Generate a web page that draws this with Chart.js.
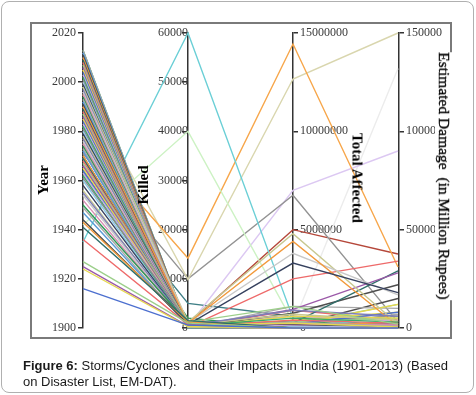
<!DOCTYPE html>
<html>
<head>
<meta charset="utf-8">
<script src="https://cdn.jsdelivr.net/npm/chart.js"></script>
<style>
  body { margin: 0; background: #fff; }
  #wrap { position: relative; width: 476px; height: 395px; overflow: hidden; }
  #outer { position: absolute; left: 1px; top: 1px; width: 473px; height: 392px; border: 1px solid #b0b0b0; border-radius: 8px; box-sizing: border-box; }
  #frame { position: absolute; left: 30px; top: 22px; width: 422px; height: 317px; border: 2px solid #7a7a7a; box-sizing: border-box; }
  #myChart { position: absolute; left: 0; top: 0; }
  .ttl { position: absolute; font-family: "Liberation Serif", serif; font-weight: bold; font-size: 15px; color: #000;
         white-space: nowrap; transform: translate(-50%, -50%) rotate(-90deg); }
  .ttl.down { transform: translate(-50%, -50%) rotate(90deg); }
  #dmg { background: #fff; font-weight: normal; font-size: 15.5px; -webkit-text-stroke: 0.3px #000; }
  #caption { position: absolute; left: 23px; top: 358px; font-family: "Liberation Sans", Arial, sans-serif; font-size: 13px; line-height: 16px; color: #1a1a1a; }
</style>
</head>
<body>
<div id="wrap">
  <div id="outer"></div>
  <div id="frame"></div>
  <canvas id="myChart" width="476" height="395"></canvas>
  <div class="ttl" style="left:43px;top:180px">Year</div>
  <div class="ttl" style="left:143px;top:185px">Killed</div>
  <div class="ttl down" style="left:357px;top:178px">Total Affected</div>
  <div class="ttl down" id="dmg" style="left:444px;top:176px">Estimated Damage&nbsp; (in Million Rupees)</div>
  <div id="caption"><b>Figure 6:</b> Storms/Cyclones and their Impacts in India (1901-2013) (Based<br>on Disaster List, EM-DAT).</div>
</div>
<script>
// axes of the parallel plot
const dimensions = ['Year', 'Killed', 'Total Affected', 'Estimated Damage'];
const yearTicks = [1900, 1920, 1940, 1960, 1980, 2000, 2020];
const killedTicks = [0, 10000, 20000, 30000, 40000, 50000, 60000];
const affectedTicks = [0, 5000000, 10000000, 15000000];
const damageTicks = [0, 50000, 100000, 150000];

// one entry per storm event
const years = [
  1916, 1924, 1925, 1927, 1936, 1941, 1943, 1944, 1947, 1949,
  1950, 1952, 1954, 1955, 1956, 1958, 1960, 1961, 1962, 1963,
  1964, 1965, 1966, 1967, 1968, 1969, 1970, 1970, 1972, 1973,
  1974, 1975, 1976, 1977, 1978, 1979, 1980, 1981, 1982, 1983,
  1984, 1985, 1986, 1987, 1988, 1989, 1990, 1991, 1992, 1993,
  1994, 1995, 1996, 1997, 1998, 1999, 2000, 2001, 2002, 2003,
  2004, 2005, 2006, 2007, 2008, 2009, 2010, 2011, 2012, 2013,
  1964, 1966, 1969, 1972, 1975, 1979, 1982, 1985, 1987, 1990,
  1992, 1995, 1996, 1998, 2000, 2003, 2005, 2008, 2010, 2012,
  1935, 1942, 1977, 1999, 1971, 1996, 1998, 1990, 1963, 2013
];
const killed = [
  600, 300, 400, 1000, 700, 1500, 1200, 800, 500, 300,
  1000, 500, 400, 700, 200, 600, 300, 1100, 250, 900,
  150, 600, 850, 1200, 1000, 300, 200, 450, 100, 250,
  80, 300, 90, 500, 600, 700, 150, 50, 400, 300,
  120, 200, 80, 50, 300, 60, 967, 40, 100, 60,
  50, 120, 1000, 200, 1200, 80, 40, 30, 20, 90,
  60, 40, 100, 70, 120, 80, 30, 50, 20, 10,
  2000, 1500, 800, 400, 250, 300, 700, 500, 200, 1000,
  150, 80, 300, 400, 100, 60, 90, 50, 40, 30,
  60000, 40000, 14204, 9843, 10000, 300, 100, 900, 5000, 20
];
const affected = [
  0, 0, 0, 0, 0, 0, 0, 0, 0, 0,
  0, 0, 0, 0, 0, 0, 50000, 0, 20000, 100000,
  0, 250000, 10000, 1100000, 0, 80000, 0, 150000, 60000, 300000,
  40000, 200000, 10000, 900000, 700000, 3300000, 100000, 20000, 500000, 120000,
  30000, 600000, 70000, 10000, 400000, 20000, 4400000, 5000, 30000, 15000,
  10000, 250000, 3800000, 100000, 4800000, 60000, 20000, 5000, 50000, 80000,
  200000, 150000, 950000, 300000, 2500000, 250000, 100000, 750000, 8000, 1100000,
  0, 0, 100000, 50000, 20000, 180000, 70000, 350000, 40000, 600000,
  10000, 400000, 150000, 200000, 900000, 30000, 60000, 120000, 80000, 20000,
  500000, 300000, 14440000, 12660000, 6750000, 7000000, 200000, 5000000, 600000, 300000
];
const damage = [
  0, 0, 0, 0, 0, 0, 0, 0, 0, 0,
  0, 0, 0, 0, 0, 0, 0, 0, 0, 0,
  0, 500, 0, 2000, 0, 0, 0, 300, 0, 800,
  0, 1500, 0, 6000, 4000, 18000, 500, 0, 3000, 200,
  100, 5000, 0, 0, 2500, 0, 1000, 0, 200, 0,
  0, 1200, 16800, 800, 2000, 300, 0, 0, 400, 700,
  8000, 12000, 28000, 5000, 34000, 29000, 3000, 22000, 1000, 10000,
  0, 0, 0, 400, 0, 1000, 0, 6000, 0, 3500,
  0, 8000, 2000, 12000, 4000, 500, 1500, 15000, 2500, 7000,
  500, 0, 31000, 150000, 3000, 90000, 132000, 37600, 200, 2000
];

const palette = ['#4c6fcf', '#e6d84e', '#9b59a8', '#9ccf8a', '#ee6a6a', '#2f6f6a', '#f29a3c', '#4d4d4d',
  '#5a9bd5', '#a8a8a8', '#2e9a55', '#d98cb3', '#c8c8c8', '#7f7fb8', '#c8c890', '#36415e',
  '#8fc9e6', '#8c8c8c', '#3da86a', '#c9a8dc'];
// the last ten events stand out in the picture
const standout = ['#6bcfd6', '#cdf2c4', '#f7a64a', '#d9d6ae', '#939393', '#dcc8f2', '#ececec', '#b5473a', '#3f7f86', '#2f9a50'];

const ranges = [
  [yearTicks[0], yearTicks[yearTicks.length - 1]],
  [killedTicks[0], killedTicks[killedTicks.length - 1]],
  [affectedTicks[0], affectedTicks[affectedTicks.length - 1]],
  [damageTicks[0], damageTicks[damageTicks.length - 1]]
];
const norm = (v, k) => (v - ranges[k][0]) / (ranges[k][1] - ranges[k][0]);

const n = years.length;
const datasets = [];
for (let i = 0; i < n; i++) {
  const vals = [years[i], killed[i], affected[i], damage[i]];
  datasets.push({
    label: 'event ' + i,
    data: vals.map((v, k) => ({x: k, y: norm(v, k)})),
    borderColor: i >= n - 10 ? standout[i - (n - 10)] : palette[i % palette.length],
    borderWidth: 1.4,
    pointRadius: 0,
    tension: 0,
    clip: false,
    xAxisID: 'x',
    yAxisID: 'yn'
  });
}

const tickFont = {family: 'Liberation Serif', size: 12};
const tickColor = '#3a3a3a';
function axis(ticks, extra) {
  return Object.assign({
    type: 'linear',
    min: ticks[0],
    max: ticks[ticks.length - 1],
    afterBuildTicks: s => { s.ticks = ticks.map(v => ({value: v})); },
    ticks: {font: tickFont, color: tickColor, padding: 2, callback: v => String(v)},
    grid: {drawOnChartArea: false, tickLength: 5, color: '#333', lineWidth: 1.5},
    border: {color: '#333', width: 1.5}
  }, extra);
}

new Chart(document.getElementById('myChart'), {
  type: 'line',
  data: {datasets: datasets},
  options: {
    responsive: false,
    animation: false,
    events: [],
    layout: {padding: {left: 43, top: 33, bottom: 67, right: 27}},
    plugins: {legend: {display: false}, tooltip: {enabled: false}},
    scales: {
      // chart area runs from the Year axis to the Total Affected axis;
      // the damage segment is drawn past it (clip: false)
      x: {type: 'linear', display: false, afterDataLimits: s => { s.min = 0; s.max = 2; }},
      yn: {type: 'linear', min: 0, max: 1, display: false},
      yYear: axis(yearTicks, {position: 'left', afterFit: s => { s.width = 40; }}),
      yKilled: axis(killedTicks, {position: {x: 1}}),
      yAffected: axis(affectedTicks, {position: 'right', weight: 0, afterFit: s => { s.width = 106; }}),
      yDamage: axis(damageTicks, {position: 'right', weight: 1, afterFit: s => { s.width = 50; }})
    }
  }
});
</script>
</body>
</html>
